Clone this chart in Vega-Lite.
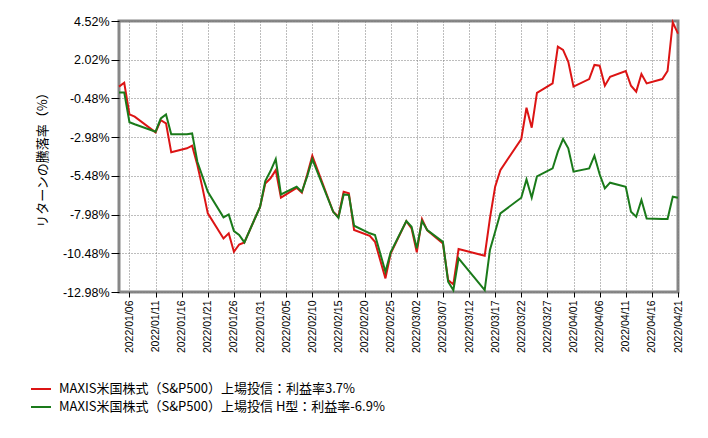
{
  "$schema": "https://vega.github.io/schema/vega-lite/v6.json",
  "width": 559,
  "height": 271,
  "autosize": {"type": "none"},
  "padding": {"left": 119, "top": 21, "right": 30, "bottom": 146},
  "background": "white",
  "config": {
    "view": {"stroke": "#878787", "strokeWidth": 3},
    "font": "Liberation Sans"
  },
  "data": {
    "values": [
      {"d": "2022/01/04", "r": 0.28, "g": -0.09},
      {"d": "2022/01/05", "r": 0.53, "g": -0.09},
      {"d": "2022/01/06", "r": -1.51, "g": -2.02},
      {"d": "2022/01/07", "r": -1.66, "g": -2.15},
      {"d": "2022/01/11", "r": -2.67, "g": -2.63},
      {"d": "2022/01/12", "r": -1.88, "g": -1.77},
      {"d": "2022/01/13", "r": -2.09, "g": -1.51},
      {"d": "2022/01/14", "r": -3.96, "g": -2.8},
      {"d": "2022/01/17", "r": -3.7, "g": -2.8},
      {"d": "2022/01/18", "r": -3.53, "g": -2.74},
      {"d": "2022/01/19", "r": -4.78, "g": -4.57},
      {"d": "2022/01/20", "r": -6.29, "g": -5.54},
      {"d": "2022/01/21", "r": -7.9, "g": -6.51},
      {"d": "2022/01/24", "r": -9.52, "g": -8.16},
      {"d": "2022/01/25", "r": -9.19, "g": -7.97},
      {"d": "2022/01/26", "r": -10.38, "g": -9.05},
      {"d": "2022/01/27", "r": -9.91, "g": -9.3},
      {"d": "2022/01/28", "r": -9.78, "g": -9.78},
      {"d": "2022/01/31", "r": -7.48, "g": -7.48},
      {"d": "2022/02/01", "r": -5.97, "g": -5.82},
      {"d": "2022/02/02", "r": -5.64, "g": -5.17},
      {"d": "2022/02/03", "r": -5.11, "g": -4.4},
      {"d": "2022/02/04", "r": -6.89, "g": -6.68},
      {"d": "2022/02/07", "r": -6.25, "g": -6.18},
      {"d": "2022/02/08", "r": -6.57, "g": -6.51},
      {"d": "2022/02/09", "r": -5.43, "g": -5.54},
      {"d": "2022/02/10", "r": -4.18, "g": -4.4},
      {"d": "2022/02/14", "r": -7.8, "g": -7.8},
      {"d": "2022/02/15", "r": -8.12, "g": -8.19},
      {"d": "2022/02/16", "r": -6.51, "g": -6.68},
      {"d": "2022/02/17", "r": -6.61, "g": -6.72},
      {"d": "2022/02/18", "r": -8.98, "g": -8.7},
      {"d": "2022/02/21", "r": -9.35, "g": -9.19},
      {"d": "2022/02/22", "r": -9.74, "g": -9.3},
      {"d": "2022/02/24", "r": -12.1, "g": -11.67},
      {"d": "2022/02/25", "r": -10.49, "g": -10.42},
      {"d": "2022/02/28", "r": -8.4, "g": -8.4},
      {"d": "2022/03/01", "r": -8.87, "g": -8.77},
      {"d": "2022/03/02", "r": -10.42, "g": -10.16},
      {"d": "2022/03/03", "r": -8.27, "g": -8.4},
      {"d": "2022/03/04", "r": -9.0, "g": -8.98},
      {"d": "2022/03/07", "r": -9.84, "g": -9.74},
      {"d": "2022/03/08", "r": -12.21, "g": -12.32},
      {"d": "2022/03/09", "r": -12.49, "g": -12.86},
      {"d": "2022/03/10", "r": -10.21, "g": -10.81},
      {"d": "2022/03/15", "r": -10.64, "g": -12.86},
      {"d": "2022/03/16", "r": -8.23, "g": -10.27},
      {"d": "2022/03/17", "r": -6.18, "g": -9.09},
      {"d": "2022/03/18", "r": -5.11, "g": -7.9},
      {"d": "2022/03/22", "r": -3.1, "g": -6.89},
      {"d": "2022/03/23", "r": -1.08, "g": -5.71},
      {"d": "2022/03/24", "r": -2.37, "g": -6.89},
      {"d": "2022/03/25", "r": -0.12, "g": -5.52},
      {"d": "2022/03/28", "r": 0.49, "g": -5.0},
      {"d": "2022/03/29", "r": 2.86, "g": -3.92},
      {"d": "2022/03/30", "r": 2.65, "g": -3.1},
      {"d": "2022/03/31", "r": 1.89, "g": -3.7},
      {"d": "2022/04/01", "r": 0.28, "g": -5.21},
      {"d": "2022/04/04", "r": 0.77, "g": -5.0},
      {"d": "2022/04/05", "r": 1.68, "g": -4.18},
      {"d": "2022/04/06", "r": 1.63, "g": -5.38},
      {"d": "2022/04/07", "r": 0.34, "g": -6.29},
      {"d": "2022/04/08", "r": 0.92, "g": -5.92},
      {"d": "2022/04/11", "r": 1.29, "g": -6.18},
      {"d": "2022/04/12", "r": 0.34, "g": -7.8},
      {"d": "2022/04/13", "r": -0.04, "g": -8.12},
      {"d": "2022/04/14", "r": 1.1, "g": -7.04},
      {"d": "2022/04/15", "r": 0.49, "g": -8.23},
      {"d": "2022/04/18", "r": 0.77, "g": -8.27},
      {"d": "2022/04/19", "r": 1.29, "g": -8.27},
      {"d": "2022/04/20", "r": 4.43, "g": -6.83},
      {"d": "2022/04/21", "r": 3.7, "g": -6.9}
    ]
  },
  "transform": [{"fold": ["r", "g"], "as": ["s", "v"]}],
  "encoding": {
    "x": {
      "field": "d",
      "type": "temporal",
      "scale": {
        "domain": [
          {"year": 2022, "month": 1, "date": 4},
          {"year": 2022, "month": 4, "date": 21}
        ]
      },
      "axis": {
        "title": null,
        "values": [
          {"year": 2022, "month": 1, "date": 6},
          {"year": 2022, "month": 1, "date": 11},
          {"year": 2022, "month": 1, "date": 16},
          {"year": 2022, "month": 1, "date": 21},
          {"year": 2022, "month": 1, "date": 26},
          {"year": 2022, "month": 1, "date": 31},
          {"year": 2022, "month": 2, "date": 5},
          {"year": 2022, "month": 2, "date": 10},
          {"year": 2022, "month": 2, "date": 15},
          {"year": 2022, "month": 2, "date": 20},
          {"year": 2022, "month": 2, "date": 25},
          {"year": 2022, "month": 3, "date": 2},
          {"year": 2022, "month": 3, "date": 7},
          {"year": 2022, "month": 3, "date": 12},
          {"year": 2022, "month": 3, "date": 17},
          {"year": 2022, "month": 3, "date": 22},
          {"year": 2022, "month": 3, "date": 27},
          {"year": 2022, "month": 4, "date": 1},
          {"year": 2022, "month": 4, "date": 6},
          {"year": 2022, "month": 4, "date": 11},
          {"year": 2022, "month": 4, "date": 16},
          {"year": 2022, "month": 4, "date": 21}
        ],
        "format": "%Y/%m/%d",
        "labelAngle": 270,
        "labelFontSize": 10.5,
        "labelColor": "#000000",
        "labelPadding": 3,
        "labelOverlap": false,
        "labelFlush": false,
        "tickSize": 5,
        "tickColor": "#000000",
        "domain": false,
        "grid": true,
        "gridDash": [1, 2],
        "gridColor": "#7a7a7a",
        "gridOpacity": 1
      }
    },
    "y": {
      "field": "v",
      "type": "quantitative",
      "scale": {"domain": [-12.98, 4.52], "nice": false, "zero": false},
      "axis": {
        "title": "リターンの騰落率（%）",
        "titleFont": "Noto Sans CJK JP",
        "titleFontSize": 13,
        "titleFontWeight": "normal",
        "titleColor": "#000000",
        "titlePadding": 13,
        "values": [4.52, 2.02, -0.48, -2.98, -5.48, -7.98, -10.48, -12.98],
        "labelExpr": "datum.value + '%'",
        "labelFontSize": 12.5,
        "labelColor": "#000000",
        "labelPadding": 2,
        "labelOverlap": false,
        "labelFlush": false,
        "tickSize": 8,
        "tickColor": "#000000",
        "domain": false,
        "grid": true,
        "gridDash": [1, 2],
        "gridColor": "#7a7a7a",
        "gridOpacity": 1
      }
    },
    "color": {
      "field": "s",
      "type": "nominal",
      "scale": {"domain": ["r", "g"], "range": ["#dc1414", "#1a7a1a"]},
      "legend": {
        "orient": "none",
        "legendX": -89,
        "legendY": 357,
        "title": null,
        "padding": 0,
        "rowPadding": 0,
        "symbolType": "stroke",
        "symbolSize": 400,
        "symbolStrokeWidth": 2,
        "labelFont": "Noto Sans CJK JP",
        "labelFontSize": 13,
        "labelColor": "#000000",
        "labelLimit": 0,
        "labelOffset": 7,
        "labelExpr": "datum.value == 'r' ? 'MAXIS米国株式（S&P500）上場投信：利益率3.7%' : 'MAXIS米国株式（S&P500）上場投信 H型：利益率-6.9%'"
      }
    }
  },
  "layer": [
    {"transform": [{"filter": "datum.s == 'r'"}], "mark": {"type": "line", "strokeWidth": 2}},
    {"transform": [{"filter": "datum.s == 'g'"}], "mark": {"type": "line", "strokeWidth": 2}}
  ]
}
